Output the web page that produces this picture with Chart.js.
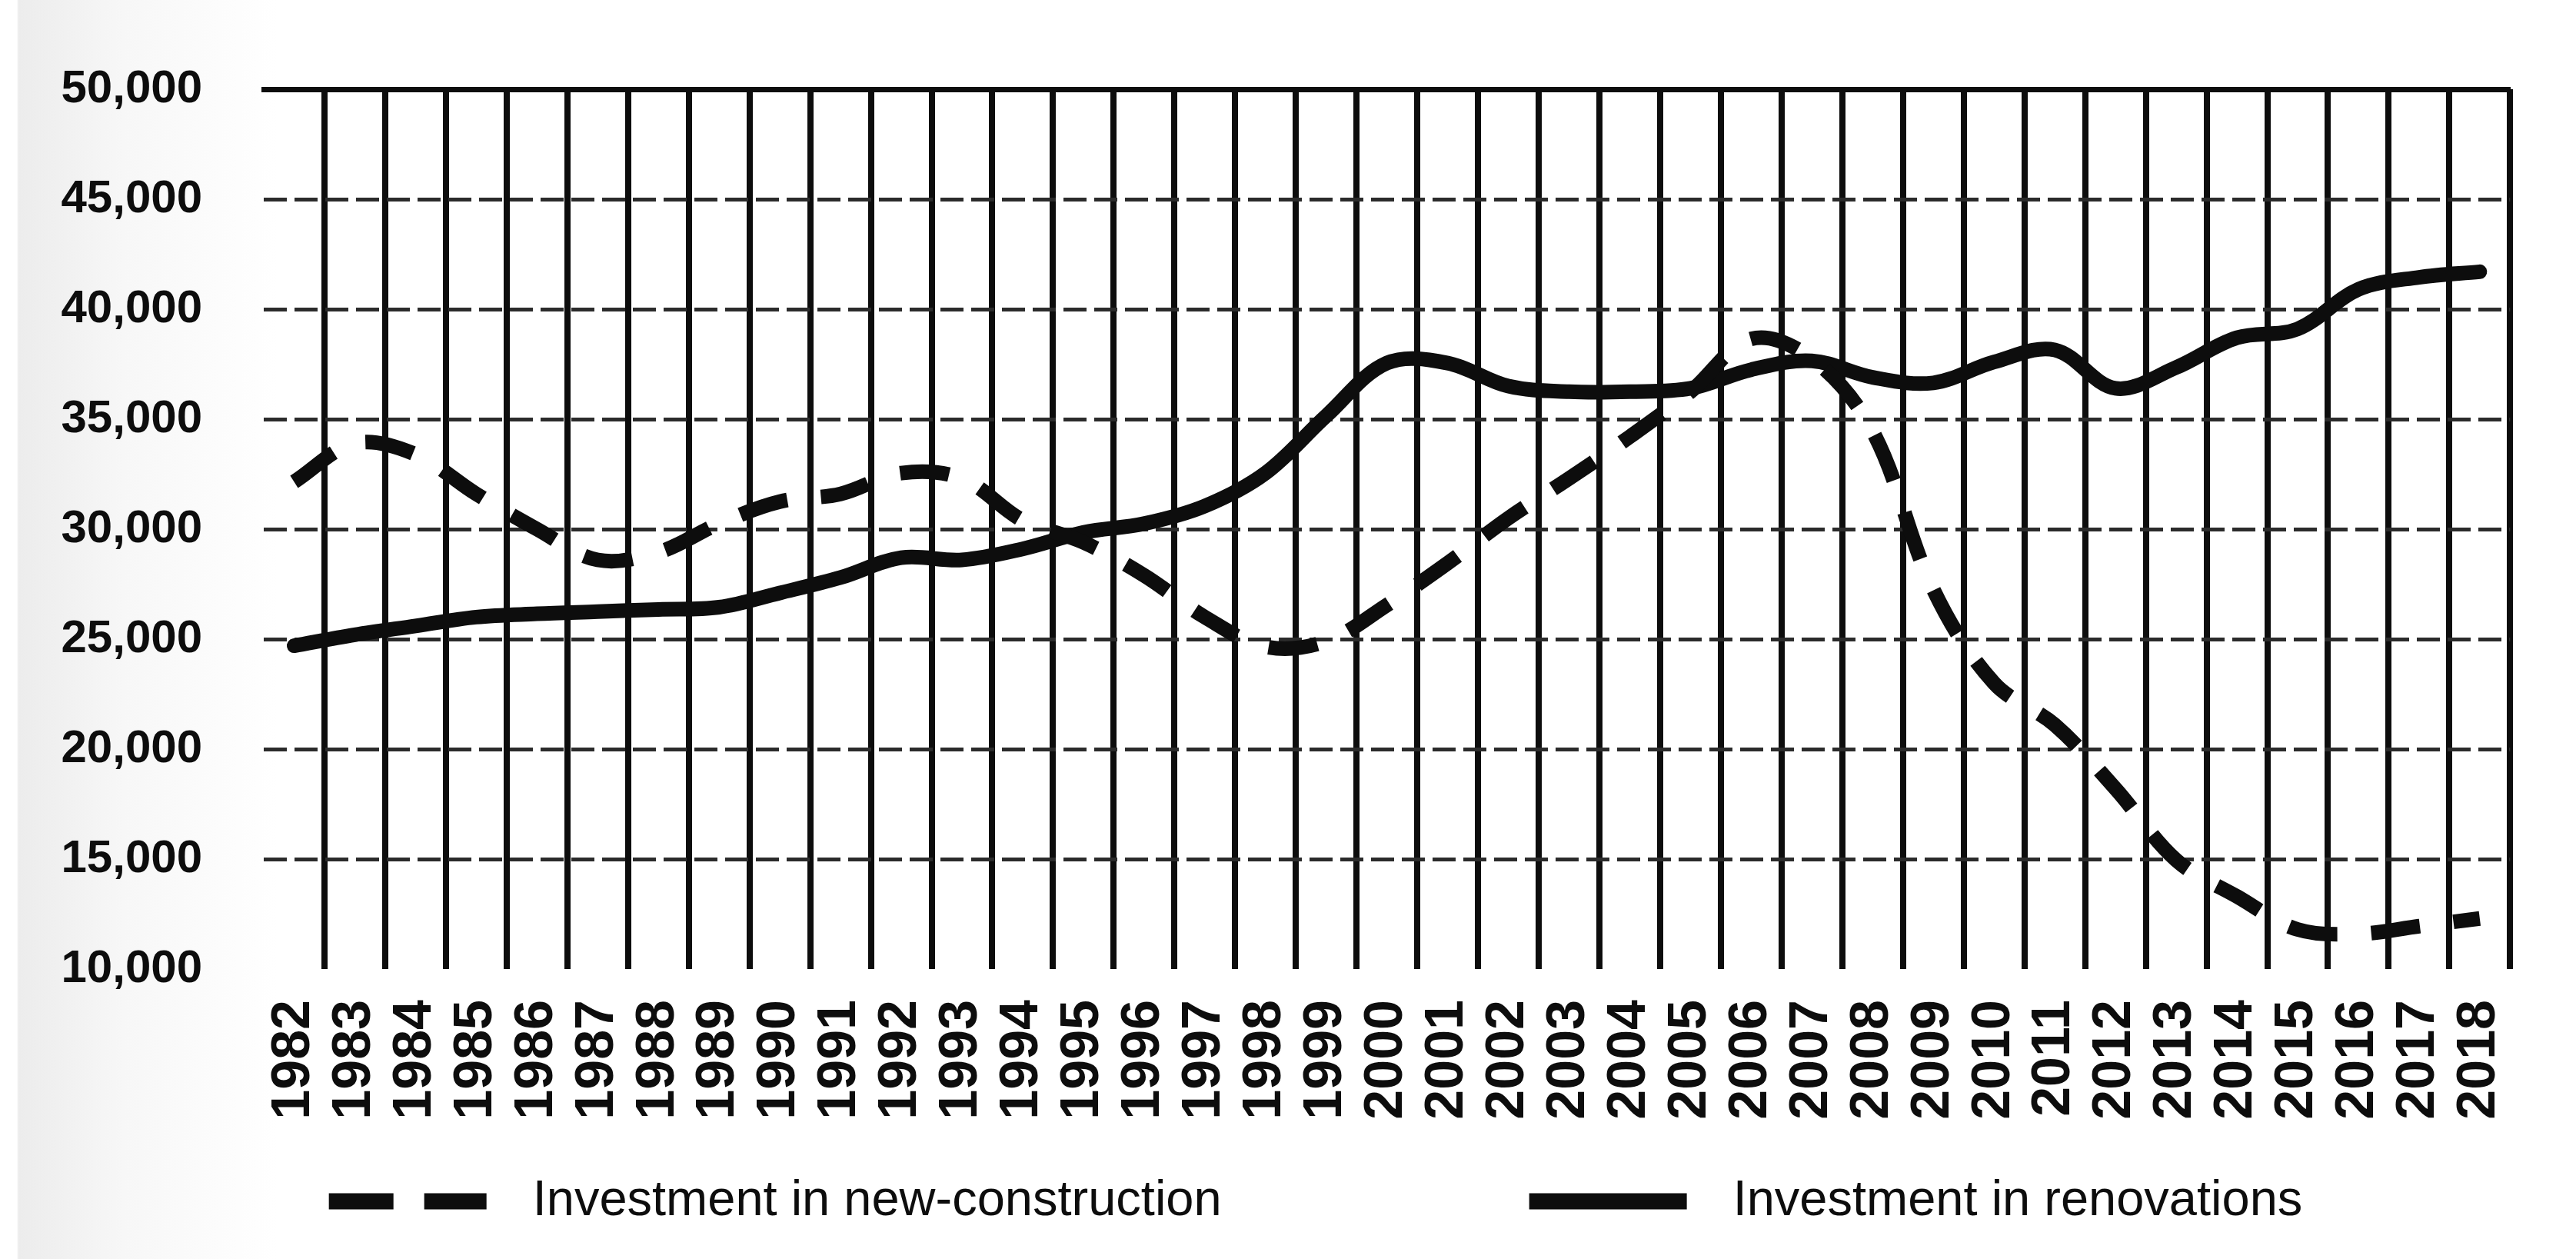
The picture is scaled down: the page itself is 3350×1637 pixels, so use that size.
<!DOCTYPE html>
<html>
<head>
<meta charset="utf-8">
<title>Investment in new-construction vs renovations</title>
<script src="https://cdn.jsdelivr.net/npm/chart.js@4.4.1/dist/chart.umd.min.js"></script>
<style>
  html, body { margin: 0; padding: 0; background: #ffffff; }
  #wrap {
    width: 3350px; height: 1637px; position: relative;
    background:
      linear-gradient(to right, #ffffff 0px, #ffffff 22px, #ececec 24px, #f7f7f7 160px, #ffffff 360px);
  }
</style>
</head>
<body>
<div id="wrap"><canvas id="myChart"></canvas></div>
<script>
// years on the x axis
const years = [
  "1982", "1983", "1984", "1985", "1986", "1987", "1988", "1989", "1990", "1991",
  "1992", "1993", "1994", "1995", "1996", "1997", "1998", "1999", "2000", "2001",
  "2002", "2003", "2004", "2005", "2006", "2007", "2008", "2009", "2010", "2011",
  "2012", "2013", "2014", "2015", "2016", "2017", "2018"
];

// dashed series
const newConstruction = [
  32150, 33900, 33400, 31600, 30000, 28600, 28950, 30250, 31250, 31600,
  32550, 32300, 30400, 29400, 27900, 26000, 24650, 24900, 26550, 28450,
  30500, 32300, 34200, 36250, 38650, 37750, 34450, 27250, 23000, 21100,
  18200, 14950, 13300, 11800, 11600, 11950, 12300
];

// solid series
const renovations = [
  24700, 25200, 25600, 26000, 26150, 26250, 26350, 26450, 27100, 27800,
  28700, 28600, 29100, 29850, 30250, 31050, 32550, 35150, 37550, 37550,
  36500, 36250, 36250, 36400, 37250, 37650, 36900, 36650, 37600, 38150,
  36400, 37350, 38700, 39100, 40900, 41450, 41700
];

const seriesLabels = ["Investment in new-construction", "Investment in renovations"];
const yMin = 10000;
const yMax = 50000;
const yStep = 5000;

const ink = "#0d0d0d";
const fontFamily = '"Liberation Sans", Arial, sans-serif';

// legend drawn as one row under the axis labels
const legendRow = {
  id: "legendRow",
  afterDraw(chart) {
    const ctx = chart.ctx;
    const lineLen = 205;
    const gap = 60;
    const itemGap = 400;
    ctx.save();
    ctx.font = "65px " + fontFamily;
    const widths = chart.data.datasets.map(
      (ds) => lineLen + gap + ctx.measureText(ds.label).width
    );
    const total = widths.reduce((a, b) => a + b, 0) + itemGap * (widths.length - 1);
    let x = chart.width / 2 + 36 - total / 2;
    const y = chart.height - 75;
    chart.data.datasets.forEach((ds, i) => {
      ctx.beginPath();
      ctx.lineWidth = ds.borderWidth + 2;
      ctx.strokeStyle = ds.borderColor;
      ctx.lineCap = "butt";
      ctx.setLineDash(ds.borderDash && ds.borderDash.length ? [84, 40] : []);
      ctx.moveTo(x, y);
      ctx.lineTo(x + lineLen, y);
      ctx.stroke();
      ctx.setLineDash([]);
      ctx.fillStyle = ink;
      ctx.textBaseline = "middle";
      ctx.textAlign = "left";
      ctx.fillText(ds.label, x + lineLen + gap, y);
      x += widths[i] + itemGap;
    });
    ctx.restore();
  },
};

const ctx = document.getElementById("myChart").getContext("2d");

new Chart(ctx, {
  type: "line",
  data: {
    labels: years,
    datasets: [
      {
        label: seriesLabels[0],
        data: newConstruction,
        borderColor: ink,
        backgroundColor: ink,
        borderWidth: 19,
        borderDash: [64, 44],
        borderCapStyle: "butt",
        pointRadius: 0,
        tension: 0.35,
        fill: false,
      },
      {
        label: seriesLabels[1],
        data: renovations,
        borderColor: ink,
        backgroundColor: ink,
        borderWidth: 19,
        borderCapStyle: "round",
        pointRadius: 0,
        tension: 0.35,
        fill: false,
      },
    ],
  },
  plugins: [legendRow],
  options: {
    responsive: true,
    maintainAspectRatio: false,
    animation: false,
    layout: {
      padding: { top: 93, right: 56, bottom: 180, left: 0 },
    },
    plugins: {
      legend: { display: false },
      tooltip: { enabled: false },
    },
    scales: {
      x: {
        type: "category",
        offset: true,
        grid: {
          offset: true,
          drawTicks: false,
          lineWidth: 8,
          color: (c) => (c.index === 0 ? "rgba(0,0,0,0)" : ink),
        },
        border: { display: false },
        ticks: {
          autoSkip: false,
          minRotation: 90,
          maxRotation: 90,
          padding: 40,
          color: ink,
          font: { size: 70, weight: "bold", family: fontFamily },
        },
        afterFit: (scale) => {
          scale.height = 197;
        },
      },
      xTop: {
        type: "category",
        position: "top",
        offset: true,
        grid: { display: false, drawTicks: false },
        ticks: { display: false },
        border: { display: true, color: ink, width: 7 },
        afterFit: (scale) => {
          scale.height = 0;
        },
      },
      y: {
        type: "linear",
        min: yMin,
        max: yMax,
        grid: {
          drawTicks: false,
          lineWidth: 5,
          color: (c) =>
            c.tick && (c.tick.value === yMin || c.tick.value === yMax)
              ? "rgba(0,0,0,0)"
              : "#2b2b2b",
        },
        border: { display: false, dash: [30, 10] },
        ticks: {
          stepSize: yStep,
          padding: 80,
          color: ink,
          font: { size: 60, weight: "bold", family: fontFamily },
          callback: (v) => v.toLocaleString("en-US"),
        },
        afterFit: (scale) => {
          scale.width = 343;
        },
      },
    },
  },
});
</script>
</body>
</html>
